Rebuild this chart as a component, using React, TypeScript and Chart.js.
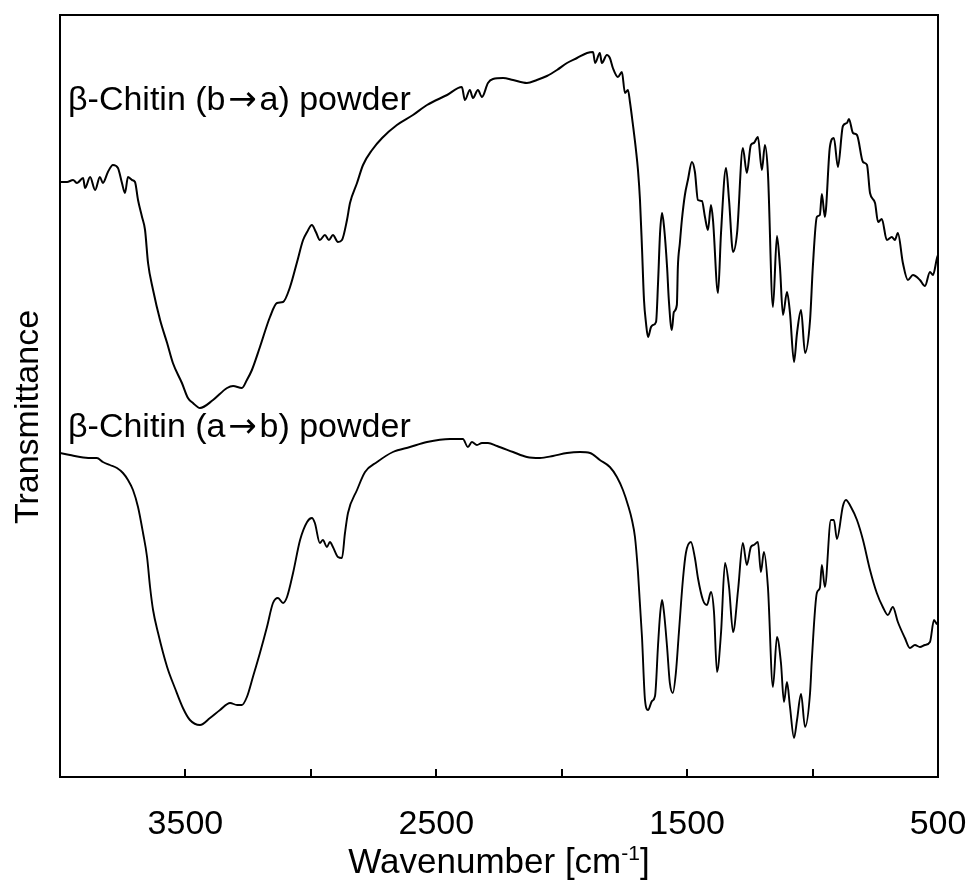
import React, { useEffect, useRef } from 'react';
import { Chart, registerables } from 'chart.js';

Chart.register(...registerables);

// β-Chitin (b→a) powder — upper spectrum (wavenumber, arbitrary transmittance)
const wavenumberBA = [4000,3972,3948,3932,3908,3900,3880,3860,3841,3829,3809,3789,3769,3753,3741,3729,3713,3701,3689,3673,3661,3649,3629,3601,3573,3550,3514,3490,3470,3442,3390,3334,3310,3275,3255,3235,3203,3163,3135,3111,3083,3055,3031,3015,2996,2980,2964,2944,2928,2912,2892,2876,2856,2844,2816,2792,2756,2716,2657,2593,2537,2457,2398,2386,2366,2354,2334,2318,2294,2274,2234,2194,2139,2099,2059,2019,1979,1939,1899,1875,1867,1848,1840,1820,1808,1796,1776,1760,1748,1736,1728,1716,1704,1696,1688,1680,1672,1664,1656,1644,1636,1624,1616,1608,1600,1592,1580,1573,1561,1553,1541,1537,1529,1521,1509,1497,1481,1469,1457,1441,1429,1417,1405,1397,1377,1365,1345,1333,1317,1301,1278,1262,1246,1234,1218,1202,1190,1178,1158,1142,1130,1118,1102,1090,1074,1062,1046,1030,1010,999,983,971,963,951,931,915,899,879,863,855,839,823,799,783,771,751,739,724,704,684,672,660,640,620,600,572,552,532,520,504,500];
const transmittanceBA = [59.5,59.5,59.7,59.4,59.9,58.9,60.0,58.7,60.0,59.4,60.5,61.2,60.9,59.4,58.4,60.0,59.7,59.5,57.7,56.0,54.7,51.4,48.7,45.7,43.4,41.4,39.4,37.9,37.4,36.9,37.7,38.9,39.1,38.9,39.7,40.7,43.0,46.0,47.4,47.5,49.0,51.5,53.7,54.5,55.2,54.5,53.7,54.2,53.7,54.2,53.5,53.7,55.7,57.4,59.4,61.2,62.7,63.9,65.2,66.2,67.2,68.2,69.0,67.7,68.7,67.9,68.7,68.0,69.4,69.8,69.9,69.7,69.4,69.7,70.1,70.7,71.4,71.9,72.4,72.5,71.4,72.4,71.4,72.2,71.9,70.9,70.0,70.5,68.4,68.7,67.5,65.2,62.7,60.7,57.7,52.9,47.7,45.4,44.0,45.0,45.2,45.5,49.4,54.4,56.4,55.0,51.0,47.7,44.7,46.5,47.2,51.0,53.4,55.7,58.2,59.7,61.5,60.5,57.7,57.6,56.0,54.7,57.2,55.7,48.4,54.4,60.9,57.7,52.5,54.4,62.9,60.4,63.2,63.4,64.0,60.7,63.2,60.4,47.0,54.1,51.0,46.2,48.5,46.4,41.5,44.4,46.7,42.4,45.7,51.0,56.0,56.2,58.3,56.0,63.0,63.9,61.0,65.1,65.4,65.8,64.4,64.2,61.5,61.2,58.4,57.4,55.5,55.8,53.7,54.0,53.7,54.4,51.4,49.7,50.2,49.7,49.1,50.5,50.2,51.9,52.2];

// β-Chitin (a→b) powder — lower spectrum
const wavenumberAB = [4000,3960,3920,3880,3853,3829,3801,3773,3749,3729,3709,3689,3669,3653,3641,3629,3609,3573,3542,3510,3482,3442,3402,3362,3322,3294,3275,3255,3231,3203,3175,3151,3131,3111,3095,3071,3043,3015,2996,2984,2964,2952,2936,2924,2912,2892,2876,2864,2852,2816,2784,2736,2673,2605,2537,2445,2394,2374,2358,2338,2318,2294,2258,2194,2139,2087,2035,1979,1927,1887,1848,1808,1780,1756,1736,1720,1708,1696,1680,1668,1656,1640,1628,1616,1608,1600,1592,1580,1569,1557,1545,1533,1517,1505,1485,1469,1457,1437,1421,1405,1393,1381,1365,1349,1333,1317,1297,1278,1262,1246,1234,1218,1206,1194,1178,1158,1142,1126,1114,1102,1090,1074,1062,1046,1030,1010,1003,983,971,963,951,927,915,903,879,867,847,823,799,771,744,720,700,680,660,632,612,592,572,552,532,516,504,500];
const transmittanceAB = [32.4,32.2,32.0,31.9,31.9,31.5,31.2,30.9,30.4,29.7,28.7,27.0,24.4,22.0,19.0,16.7,14.4,11.0,8.9,6.9,5.7,5.2,5.9,6.7,7.4,7.2,7.2,8.0,10.0,12.4,15.0,17.4,17.9,17.4,18.0,20.4,23.7,25.5,25.9,25.4,23.4,23.7,23.0,23.5,23.0,22.0,21.9,24.4,26.4,28.7,30.5,31.5,32.5,33.0,33.5,33.8,33.8,33.0,33.5,33.2,33.4,33.4,33.1,32.5,32.0,31.9,32.1,32.4,32.5,32.4,31.7,31.0,30.0,28.7,27.2,25.7,24.0,20.5,14.0,7.7,6.7,7.6,8.1,13.2,16.2,17.7,16.4,13.0,9.4,8.4,10.4,14.4,19.7,22.4,23.5,21.9,19.9,17.7,17.2,18.5,16.5,10.5,14.4,21.4,19.0,14.5,18.7,23.4,21.2,23.0,23.2,23.5,20.5,22.5,19.0,9.0,14.0,11.4,7.5,9.5,7.0,3.9,5.7,8.3,5.0,8.4,11.7,18.4,18.9,21.2,19.0,25.7,25.7,23.8,27.1,27.7,27.0,25.7,23.7,20.7,18.4,17.0,16.2,17.0,15.5,13.9,12.9,13.2,13.0,13.2,13.5,15.7,15.3,15.5];

const seriesNames = ['β-Chitin (b→a) powder', 'β-Chitin (a→b) powder'];
// label anchors in data units: [wavenumber, transmittance at text baseline]
const labelWavenumbers = [3968, 3968];
const labelTransmittances = [66.7, 34.0];
const labelledTicks = [3500, 2500, 1500, 500];
const minorTicks = [3500, 3000, 2500, 2000, 1500, 1000];
const xTitleMain = 'Wavenumber [cm';
const xTitleSup = '-1';
const xTitleEnd = ']';
const yTitle = 'Transmittance';

const FONT = '"Liberation Sans", Arial, Helvetica, sans-serif';
const ARROW_FONT = '"DejaVu Sans", sans-serif';
const FS = 34;

const drawLabel = (ctx: any, text: string, x: number, y: number) => {
  // split around the arrow so the arrow can be drawn with a longer glyph
  const idx = text.indexOf('→');
  if (idx < 0) {
    ctx.fillText(text, x, y);
    return;
  }
  const before = text.slice(0, idx);
  const after = text.slice(idx + 1);
  ctx.font = `${FS}px ${FONT}`;
  ctx.fillText(before, x, y);
  let cx = x + ctx.measureText(before).width;
  const slot = FS * 1.0;
  ctx.font = `${FS}px ${ARROW_FONT}`;
  const aw = ctx.measureText('→').width;
  ctx.fillText('→', cx + (slot - aw) / 2, y);
  cx += slot;
  ctx.font = `${FS}px ${FONT}`;
  ctx.fillText(after, cx, y);
};

const decorPlugin = {
  id: 'decor',
  afterDraw(chart: any) {
    const { ctx, chartArea: a, scales } = chart;
    const xs = scales.x;
    const ys = scales.y;
    ctx.save();
    ctx.strokeStyle = '#000';
    ctx.lineWidth = 2;
    ctx.strokeRect(a.left, a.top, a.right - a.left, a.bottom - a.top);
    ctx.beginPath();
    for (const t of minorTicks) {
      const px = Math.round(xs.getPixelForValue(t));
      ctx.moveTo(px, a.bottom);
      ctx.lineTo(px, a.bottom - 8);
    }
    ctx.stroke();

    ctx.fillStyle = '#000';
    ctx.font = `${FS}px ${FONT}`;
    ctx.textAlign = 'left';
    ctx.textBaseline = 'alphabetic';
    seriesNames.forEach((name, i) => {
      drawLabel(ctx, name, xs.getPixelForValue(labelWavenumbers[i]), ys.getPixelForValue(labelTransmittances[i]));
    });

    // x title with superscript
    const mainFont = `35px ${FONT}`;
    const supFont = `21px ${FONT}`;
    ctx.font = mainFont;
    const wMain = ctx.measureText(xTitleMain).width;
    const wEnd = ctx.measureText(xTitleEnd).width;
    ctx.font = supFont;
    const wSup = ctx.measureText(xTitleSup).width;
    const total = wMain + wSup + wEnd;
    let sx = (a.left + a.right) / 2 - total / 2;
    const by = 873;
    ctx.font = mainFont;
    ctx.fillText(xTitleMain, sx, by);
    sx += wMain;
    ctx.font = supFont;
    ctx.fillText(xTitleSup, sx, by - 13);
    sx += wSup;
    ctx.font = mainFont;
    ctx.fillText(xTitleEnd, sx, by);

    // y title
    ctx.font = `${FS}px ${FONT}`;
    ctx.translate(38, 417);
    ctx.rotate(-Math.PI / 2);
    ctx.textAlign = 'center';
    ctx.fillText(yTitle, 0, 0);
    ctx.restore();
  },
};

export default function App() {
  const ref = useRef<HTMLCanvasElement | null>(null);
  useEffect(() => {
    if (!ref.current) return;
    const toPts = (xs: number[], ys: number[]) => xs.map((x, i) => ({ x, y: ys[i] }));
    const chart = new Chart(ref.current, {
      type: 'line',
      data: {
        datasets: [
          {
            label: seriesNames[0],
            data: toPts(wavenumberBA, transmittanceBA),
            borderColor: '#000',
            borderWidth: 2,
            pointRadius: 0,
            fill: false,
            cubicInterpolationMode: 'monotone',
          },
          {
            label: seriesNames[1],
            data: toPts(wavenumberAB, transmittanceAB),
            borderColor: '#000',
            borderWidth: 1.9,
            pointRadius: 0,
            fill: false,
            cubicInterpolationMode: 'monotone',
          },
        ],
      },
      options: {
        animation: false,
        responsive: false,
        devicePixelRatio: 1,
        layout: { padding: { top: 15, right: 38, left: 0, bottom: 0 } },
        plugins: { legend: { display: false }, tooltip: { enabled: false } },
        scales: {
          x: {
            type: 'linear',
            reverse: true,
            min: 500,
            max: 4000,
            grid: { display: false, drawTicks: false },
            border: { display: false },
            ticks: {
              stepSize: 500,
              autoSkip: false,
              maxRotation: 0,
              padding: 27,
              color: '#000',
              font: { family: FONT, size: FS },
              callback: (v: any) => (labelledTicks.includes(Number(v)) ? String(v) : ''),
            },
            afterFit: (s: any) => { s.height = 110; s.paddingLeft = 0; s.paddingRight = 0; },
          },
          y: {
            type: 'linear',
            min: 0,
            max: 76.2,
            grid: { display: false, drawTicks: false },
            border: { display: false },
            ticks: { display: false },
            afterFit: (s: any) => { s.width = 60; s.paddingTop = 0; s.paddingBottom = 0; },
          },
        },
      },
      plugins: [decorPlugin],
    } as any);
    return () => chart.destroy();
  }, []);
  return (
    <div style={{ position: 'absolute', left: 0, top: 0, width: 976, height: 887, background: '#fff' }}>
      <canvas ref={ref} width={976} height={887} />
    </div>
  );
}
